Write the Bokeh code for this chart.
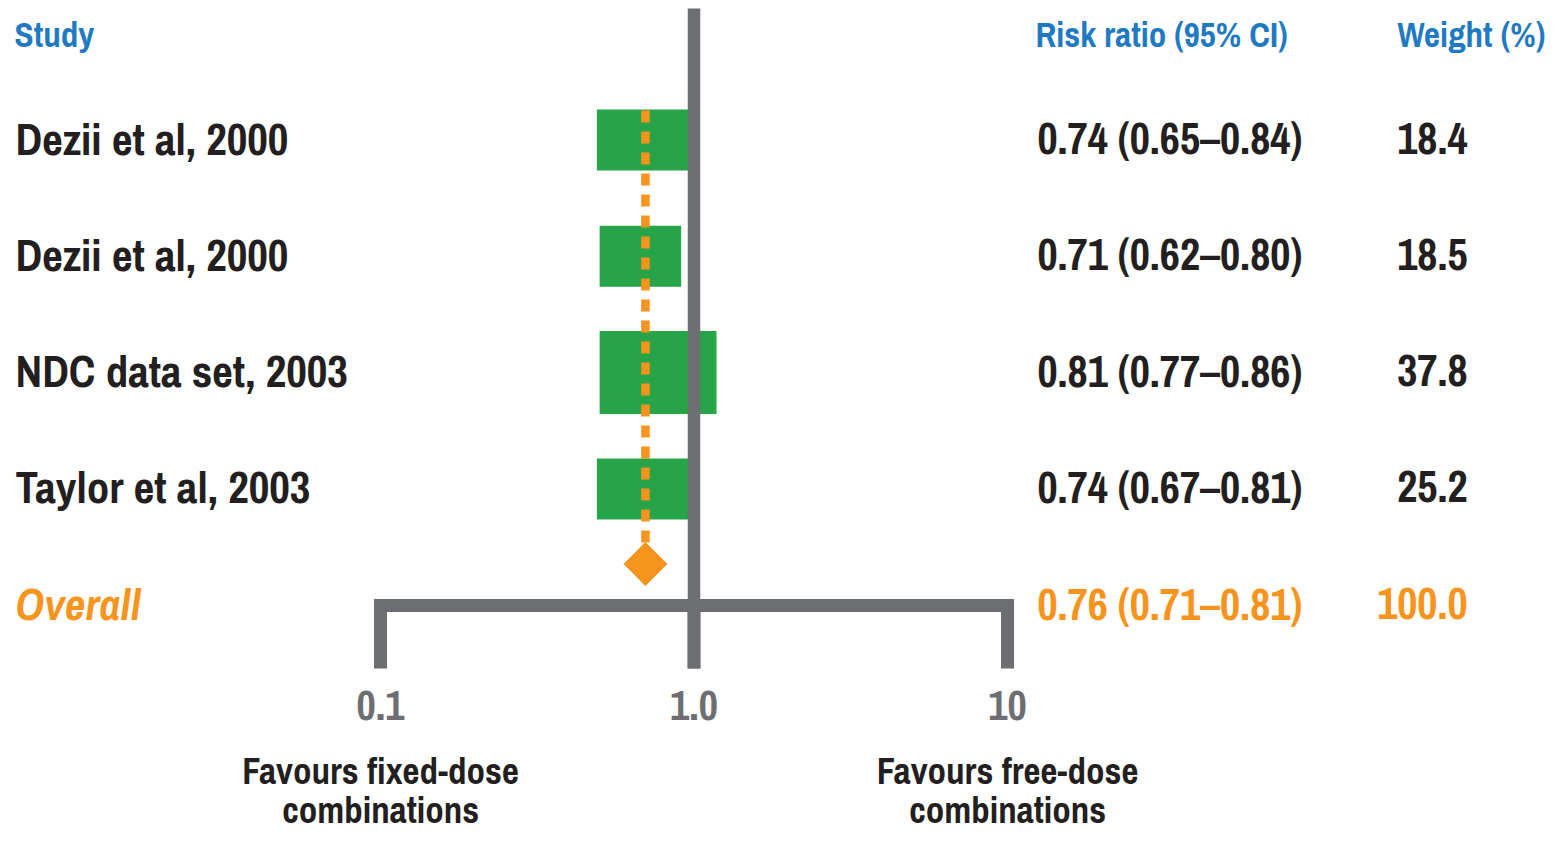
from bokeh.plotting import figure
from bokeh.models import Range1d
from bokeh.core.properties import value
from bokeh.embed import file_html
from bokeh.resources import INLINE

# ---------------- data ----------------
studies = ["Dezii et al, 2000", "Dezii et al, 2000", "NDC data set, 2003", "Taylor et al, 2003"]
rr = [0.74, 0.71, 0.81, 0.74]
ci_lo = [0.65, 0.62, 0.77, 0.67]
ci_hi = [0.84, 0.80, 0.86, 0.81]
weights = [18.4, 18.5, 37.8, 25.2]
box_lo = [0.49, 0.50, 0.50, 0.49]      # drawn box extents on the ratio scale
box_hi = [0.98, 0.91, 1.18, 0.98]
overall_label = "Overall"
overall_rr, overall_lo, overall_hi, overall_weight = 0.76, 0.71, 0.81, 100.0
overall_marker = 0.70                  # drawn position of the diamond / dotted line
tick_values = [0.1, 1.0, 10.0]
tick_labels = ["0.1", "1.0", "10"]
favour_labels = ["Favours fixed-dose\ncombinations", "Favours free-dose\ncombinations"]
favour_at = [0.1, 10.0]
headers = ["Study", "Risk ratio (95% CI)", "Weight (%)"]

# ---------------- layout / style ----------------
W, H = 1546, 833
FONT = "Archivo Narrow, DejaVu Sans Condensed, sans-serif"
GRAY = "#6D6E71"
GREEN = "#27A348"
ORANGE = "#F7941D"
BLUE = "#1F7AC2"
BLACK = "#231F20"
PX_DEC = 313.5        # pixels per decade
X1 = 693.5            # pixel x of ratio 1.0
ROW0, ROW_H = 139.5, 116.3
box_heights_px = [61, 61, 83, 61]
TXT_DY = -2           # small vertical nudge of the text rows (screen px)


def X(px):
    return 10 ** ((px - X1) / PX_DEC)


def Y(py):
    return 1 + (py - ROW0) / ROW_H


p = figure(width=W, height=H, output_backend="svg", toolbar_location=None,
           x_axis_type="log", x_axis_location=None, y_axis_location=None,
           x_range=Range1d(X(0), X(W)), y_range=Range1d(Y(H), Y(0)),
           min_border=0, outline_line_color=None)
p.grid.visible = False
p.background_fill_color = "white"
p.border_fill_color = "white"

rows = list(range(1, len(studies) + 1))
hh = [h / ROW_H / 2 for h in box_heights_px]

# boxes
p.quad(left=box_lo, right=box_hi,
       top=[r - h for r, h in zip(rows, hh)], bottom=[r + h for r, h in zip(rows, hh)],
       fill_color=GREEN, line_color=None)

# dotted overall line and diamond
p.segment(x0=[overall_marker], y0=[Y(110)], x1=[overall_marker], y1=[Y(543)],
          line_color=ORANGE, line_width=8.5, line_dash="12 9", line_cap="butt")
p.scatter(x=[overall_marker], y=[Y(563.5)], marker="square", size=31, angle=45,
          angle_units="deg", fill_color=ORANGE, line_color=None)

# axis bracket
y_axis_line = Y(605)
y_tick_end = Y(668)
p.segment(x0=[tick_values[0]], y0=[y_axis_line], x1=[tick_values[-1]], y1=[y_axis_line],
          line_color=GRAY, line_width=13, line_cap="square")
p.segment(x0=tick_values, y0=[y_axis_line] * len(tick_values), x1=tick_values,
          y1=[y_tick_end] * len(tick_values), line_color=GRAY, line_width=13, line_cap="butt")
# line of no effect
p.segment(x0=[1.0], y0=[Y(8)], x1=[1.0], y1=[y_tick_end], line_color=GRAY,
          line_width=12.5, line_cap="butt")

# tick labels
p.text(x=tick_values, y=[Y(705)] * len(tick_values), text=tick_labels,
       text_font=value(FONT), text_font_size=value("42px"), text_font_style="bold",
       text_color=GRAY, text_align="center", text_baseline="middle")

# favours labels (two lines each)
fav_first = [s.split("\n")[0] for s in favour_labels]
fav_second = [s.split("\n")[1] for s in favour_labels]
p.text(x=favour_at, y=[Y(770)] * 2, text=fav_first,
       text_font=value(FONT), text_font_size=value("37px"), text_font_style="bold",
       text_color=BLACK, text_align="center", text_baseline="middle")
p.text(x=favour_at, y=[Y(809)] * 2, text=fav_second,
       text_font=value(FONT), text_font_size=value("37px"), text_font_style="bold",
       text_color=BLACK, text_align="center", text_baseline="middle")

# headers
p.text(x=[X(14), X(1035), X(1397)], y=[Y(36)] * 3, text=headers,
       text_font=value(FONT), text_font_size=value("35px"), text_font_style="bold",
       text_color=BLUE, text_align="left", text_baseline="middle", y_offset=TXT_DY)

# study rows
ci_text = [f"{a:.2f} ({b:.2f}\u2013{c:.2f})" for a, b, c in zip(rr, ci_lo, ci_hi)]
w_text = [f"{w:.1f}" for w in weights]
p.text(x=[X(15)] * len(rows), y=rows, text=studies,
       text_font=value(FONT), text_font_size=value("45px"), text_font_style="bold",
       text_color=BLACK, text_align="left", text_baseline="middle", y_offset=TXT_DY)
p.text(x=[X(1037)] * len(rows), y=rows, text=ci_text,
       text_font=value(FONT), text_font_size=value("44px"), text_font_style="bold",
       text_color=BLACK, text_align="left", text_baseline="middle", y_offset=TXT_DY)
p.text(x=[X(1467)] * len(rows), y=rows, text=w_text,
       text_font=value(FONT), text_font_size=value("44px"), text_font_style="bold",
       text_color=BLACK, text_align="right", text_baseline="middle", y_offset=TXT_DY)

# overall row
y_over = Y(605)
p.text(x=[X(15)], y=[y_over], text=[overall_label],
       text_font=value(FONT), text_font_size=value("45px"), text_font_style="bold italic",
       text_color=ORANGE, text_align="left", text_baseline="middle", y_offset=TXT_DY)
p.text(x=[X(1037)], y=[y_over],
       text=[f"{overall_rr:.2f} ({overall_lo:.2f}\u2013{overall_hi:.2f})"],
       text_font=value(FONT), text_font_size=value("44px"), text_font_style="bold",
       text_color=ORANGE, text_align="left", text_baseline="middle", y_offset=TXT_DY)
p.text(x=[X(1467)], y=[y_over], text=[f"{overall_weight:.1f}"],
       text_font=value(FONT), text_font_size=value("44px"), text_font_style="bold",
       text_color=ORANGE, text_align="right", text_baseline="middle", y_offset=TXT_DY)

open("out.html", "w").write(file_html(p, INLINE))
